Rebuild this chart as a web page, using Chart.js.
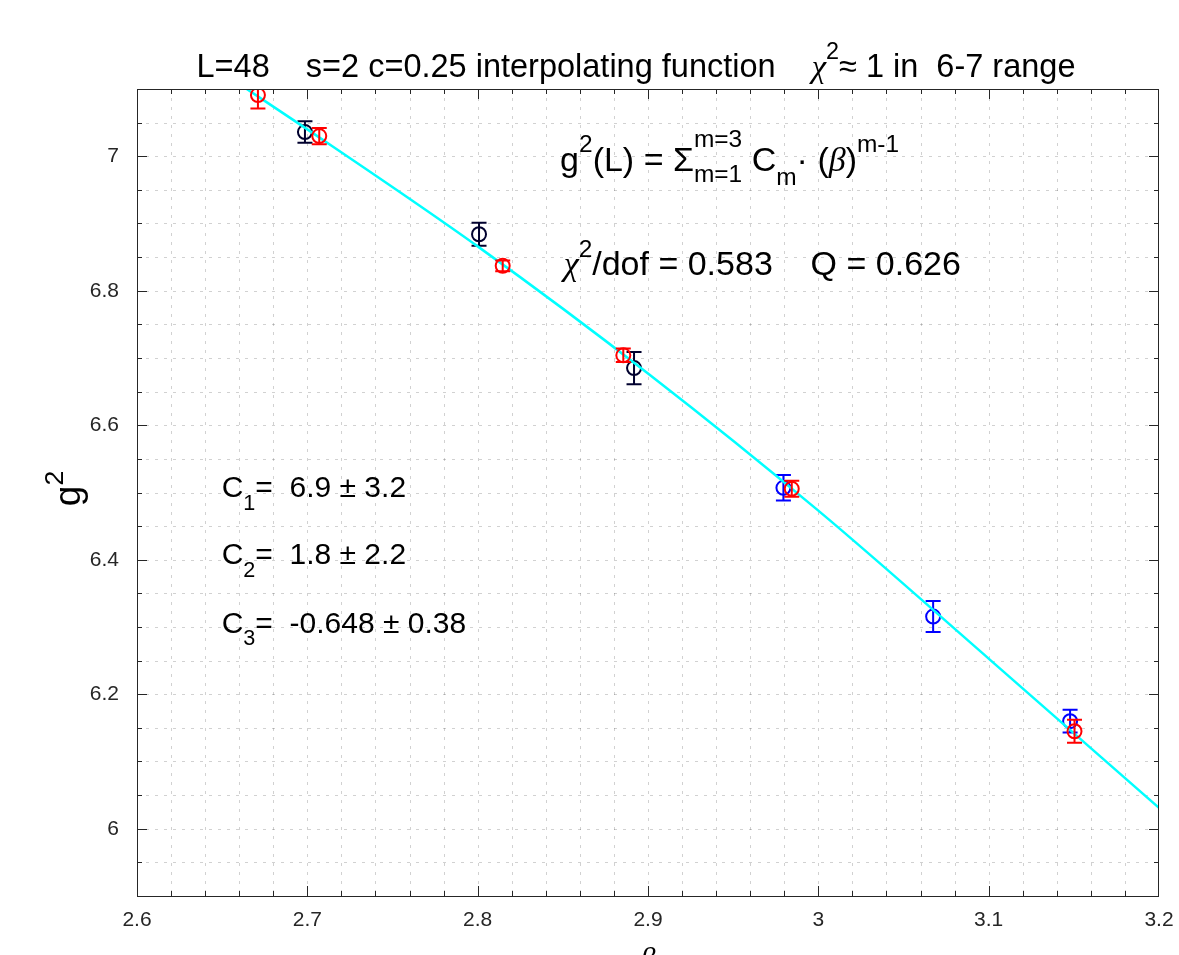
<!DOCTYPE html>
<html>
<head>
<meta charset="utf-8">
<script src="https://cdn.jsdelivr.net/npm/chart.js@4.4.1/dist/chart.umd.min.js"></script>
<style>
  html, body { margin: 0; padding: 0; background: #fff; overflow: hidden; }
  #wrap { width: 1179px; height: 955px; }
</style>
</head>
<body>
<div id="wrap"><canvas id="fitchart" width="1179" height="955"></canvas></div>
<script>
// data
const redBeta = [2.671, 2.707, 2.8147, 2.8855, 2.9844, 3.1504];
const redG2 = [7.091, 7.030, 6.837, 6.704, 6.5055, 6.145];
const redErr = [0.02, 0.012, 0.008, 0.01, 0.012, 0.017];

const blackBeta = [2.6986, 2.8008, 2.8918];
const blackG2 = [7.036, 6.884, 6.685];
const blackErr = [0.016, 0.017, 0.024];

const blueBeta = [2.9795, 3.0674, 3.1478];
const blueG2 = [6.507, 6.3155, 6.160];
const blueErr = [0.019, 0.023, 0.017];

const fitBeta = [2.6644, 2.7, 2.8, 2.9, 3.0, 3.1, 3.2];
const fitG2 = [7.100, 7.040, 6.866, 6.677, 6.473, 6.253, 6.031];

const xTicks = [2.6, 2.7, 2.8, 2.9, 3.0, 3.1, 3.2];
const yTicks = [6.0, 6.2, 6.4, 6.6, 6.8, 7.0];

const SANS = '"Liberation Sans", Arial, sans-serif';
const SERIF = '"Liberation Serif", "Times New Roman", serif';
const AXIS = '#262626';

function pts(xs, ys) {
    return xs.map((x, i) => ({ x: x, y: ys[i] }));
}

// draws a run of text pieces with sub/superscripts
function richText(ctx, x, y, parts, size, align) {
    const small = size * 0.72;
    const fontOf = (p, s) => (p.g ? 'italic ' : '') + s + 'px ' + (p.g ? SERIF : SANS);
    let total = 0;
    const widths = parts.map(p => {
        let w;
        if (p.stack) {
            ctx.font = fontOf(p, small);
            w = Math.max(ctx.measureText(p.stack[0]).width, ctx.measureText(p.stack[1]).width);
        } else {
            ctx.font = fontOf(p, p.sup || p.sub ? small : size);
            w = ctx.measureText(p.t).width;
        }
        total += w;
        return w;
    });
    let cx = align === 'center' ? x - total / 2 : x;
    ctx.textAlign = 'left';
    ctx.textBaseline = 'alphabetic';
    parts.forEach((p, i) => {
        if (p.stack) {
            ctx.font = fontOf(p, small);
            ctx.fillText(p.stack[0], cx, y - size * 0.7);
            ctx.fillText(p.stack[1], cx, y + size * 0.33);
        } else {
            ctx.font = fontOf(p, p.sup || p.sub ? small : size);
            let dy = p.sup ? -size * (p.lift || 0.55) : (p.sub ? size * 0.42 : 0);
            ctx.fillText(p.t, cx, y + dy);
        }
        cx += widths[i];
    });
    return total;
}

const decorPlugin = {
    id: 'decor',
    beforeDatasetsDraw(chart) {
        const { ctx, chartArea: a, scales: { x, y } } = chart;
        ctx.save();
        ctx.strokeStyle = 'rgba(0,0,0,0.18)';
        ctx.lineWidth = 1;
        ctx.setLineDash([3, 6]);
        for (let i = 1; i < 30; i++) {
            const px = Math.round(x.getPixelForValue(2.6 + i * 0.02)) + 0.5;
            ctx.beginPath(); ctx.moveTo(px, a.top); ctx.lineTo(px, a.bottom); ctx.stroke();
        }
        for (let i = 1; i < 24; i++) {
            const py = Math.round(y.getPixelForValue(5.9 + i * 0.05)) + 0.5;
            ctx.beginPath(); ctx.moveTo(a.left, py); ctx.lineTo(a.right, py); ctx.stroke();
        }
        ctx.restore();
    },
    afterDatasetDraw(chart, args) {
        const ds = chart.data.datasets[args.index];
        if (!ds.err) return;
        const { ctx, chartArea: a, scales: { x, y } } = chart;
        ctx.save();
        ctx.beginPath();
        ctx.rect(a.left, a.top, a.right - a.left, a.bottom - a.top);
        ctx.clip();
        ctx.strokeStyle = ds.borderColor;
        ctx.lineWidth = 2;
        ds.data.forEach((p, i) => {
            const px = x.getPixelForValue(p.x);
            const top = y.getPixelForValue(p.y + ds.err[i]);
            const bot = y.getPixelForValue(p.y - ds.err[i]);
            ctx.beginPath();
            ctx.moveTo(px, top); ctx.lineTo(px, bot);
            ctx.moveTo(px - 7.5, top); ctx.lineTo(px + 7.5, top);
            ctx.moveTo(px - 7.5, bot); ctx.lineTo(px + 7.5, bot);
            ctx.stroke();
        });
        ctx.restore();
    },
    afterDraw(chart) {
        const { ctx, chartArea: a, scales: { x, y } } = chart;
        ctx.save();
        // box and inward ticks
        ctx.strokeStyle = AXIS;
        ctx.lineWidth = 1;
        ctx.strokeRect(a.left + 0.5, a.top + 0.5, a.right - a.left - 1, a.bottom - a.top);
        ctx.beginPath();
        for (let i = 1; i < 30; i++) {
            const px = Math.round(x.getPixelForValue(2.6 + i * 0.02)) + 0.5;
            const len = i % 5 === 0 ? 10 : 5;
            ctx.moveTo(px, a.bottom); ctx.lineTo(px, a.bottom - len);
            ctx.moveTo(px, a.top); ctx.lineTo(px, a.top + len);
        }
        for (let i = 1; i < 24; i++) {
            const py = Math.round(y.getPixelForValue(5.9 + i * 0.05)) + 0.5;
            const len = (i + 2) % 4 === 0 ? 10 : 5;
            ctx.moveTo(a.left, py); ctx.lineTo(a.left + len, py);
            ctx.moveTo(a.right, py); ctx.lineTo(a.right - len, py);
        }
        ctx.stroke();

        ctx.fillStyle = '#000';
        // title
        richText(ctx, (a.left + a.right) / 2 - 12, 77, [
            { t: 'L=48    s=2 c=0.25 interpolating function    ' },
            { t: '\u03c7', g: true }, { t: '2', sup: true },
            { t: '\u2248 1 in  6-7 range' }
        ], 32.5, 'center');

        // fit formula
        richText(ctx, x.getPixelForValue(2.8484), y.getPixelForValue(6.978), [
            { t: 'g' }, { t: '2', sup: true }, { t: '(L) = \u03a3' },
            { stack: ['m=3', 'm=1'] }, { t: ' C' }, { t: 'm', sub: true },
            { t: '\u00b7 (' }, { t: '\u03b2', g: true }, { t: ')' }, { t: 'm-1', sup: true }
        ], 34);
        richText(ctx, x.getPixelForValue(2.8505), y.getPixelForValue(6.823), [
            { t: '\u03c7', g: true }, { t: '2', sup: true },
            { t: '/dof = 0.583    Q = 0.626' }
        ], 34);

        const coeffs = [['1', ' 6.9 \u00b1 3.2', 6.4926], ['2', ' 1.8 \u00b1 2.2', 6.393], ['3', ' -0.648 \u00b1 0.38', 6.2917]];
        coeffs.forEach(c => {
            richText(ctx, x.getPixelForValue(2.6497), y.getPixelForValue(c[2]), [
                { t: 'C' }, { t: c[0], sub: true }, { t: '= ' + c[1] }
            ], 30);
        });

        // axis titles
        ctx.save();
        ctx.translate(80, (a.top + a.bottom) / 2 - 4);
        ctx.rotate(-Math.PI / 2);
        richText(ctx, 0, 0, [{ t: 'g' }, { t: '2', sup: true, lift: 0.45 }], 37, 'center');
        ctx.restore();
        richText(ctx, (a.left + a.right) / 2, 968, [{ t: '\u03b2', g: true }], 30, 'center');
        ctx.restore();
    }
};

const config = {
    data: {
        datasets: [{
            type: 'scatter',
            label: 'red',
            data: pts(redBeta, redG2),
            err: redErr,
            borderColor: '#ff0000',
            backgroundColor: 'rgba(0,0,0,0)',
            pointStyle: 'circle',
            pointRadius: 7,
            borderWidth: 2,
            order: 0
        }, {
            type: 'line',
            label: 'fit',
            data: pts(fitBeta, fitG2),
            borderColor: '#00ffff',
            borderWidth: 2.5,
            pointRadius: 0,
            fill: false,
            cubicInterpolationMode: 'monotone',
            order: 1
        }, {
            type: 'scatter',
            label: 'blue',
            data: pts(blueBeta, blueG2),
            err: blueErr,
            borderColor: '#0000ff',
            backgroundColor: 'rgba(0,0,0,0)',
            pointRadius: 7,
            borderWidth: 2,
            order: 2
        }, {
            type: 'scatter',
            label: 'black',
            data: pts(blackBeta, blackG2),
            err: blackErr,
            borderColor: '#00002e',
            backgroundColor: 'rgba(0,0,0,0)',
            pointRadius: 7,
            borderWidth: 2,
            order: 3
        }]
    },
    options: {
        responsive: false,
        animation: false,
        layout: { padding: { top: 89, right: 20, left: 0, bottom: 0 } },
        plugins: {
            legend: { display: false },
            tooltip: { enabled: false }
        },
        scales: {
            x: {
                type: 'linear',
                min: 2.6,
                max: 3.2,
                afterBuildTicks: axis => { axis.ticks = xTicks.map(v => ({ value: v })); },
                afterFit: scale => {
                    scale.height = 59;
                    scale.paddingLeft = 0;
                    scale.paddingRight = 0;
                },
                grid: { display: false, drawTicks: false },
                border: { display: false },
                ticks: {
                    padding: 12,
                    color: AXIS,
                    font: { family: SANS, size: 21 },
                    maxRotation: 0,
                    callback: v => String(+v.toFixed(2))
                }
            },
            y: {
                type: 'linear',
                min: 5.9,
                max: 7.1,
                afterBuildTicks: axis => { axis.ticks = yTicks.map(v => ({ value: v })); },
                afterFit: scale => { scale.width = 137; },
                grid: { display: false, drawTicks: false },
                border: { display: false },
                ticks: {
                    padding: 18,
                    color: AXIS,
                    font: { family: SANS, size: 21 },
                    callback: v => String(+v.toFixed(2))
                }
            }
        }
    },
    plugins: [decorPlugin]
};

const chart = new Chart(document.getElementById('fitchart'), config);
</script>
</body>
</html>
